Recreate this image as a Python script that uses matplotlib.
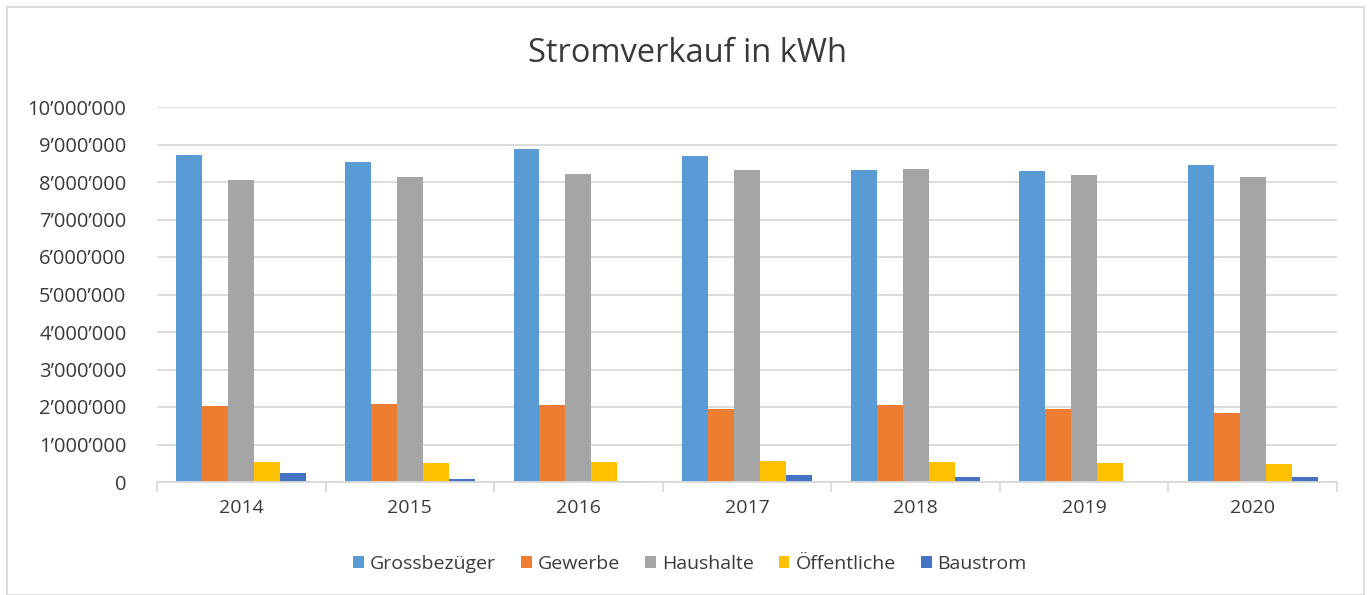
import matplotlib.pyplot as plt
import numpy as np
from matplotlib.ticker import FuncFormatter, FixedLocator
from matplotlib.patches import Rectangle

plt.rcParams['font.family'] = ['Open Sans', 'DejaVu Sans']

# Daten
jahre = ['2014', '2015', '2016', '2017', '2018', '2019', '2020']
grossbezueger = [8720000, 8530000, 8880000, 8690000, 8320000, 8290000, 8450000]
gewerbe = [2030000, 2080000, 2050000, 1950000, 2050000, 1950000, 1840000]
haushalte = [8050000, 8130000, 8210000, 8320000, 8350000, 8190000, 8130000]
oeffentliche = [540000, 510000, 540000, 560000, 530000, 510000, 490000]
baustrom = [230000, 90000, 30000, 200000, 140000, 0, 140000]

serien = [('Grossbezüger', grossbezueger, '#5B9BD5'),
          ('Gewerbe', gewerbe, '#ED7D31'),
          ('Haushalte', haushalte, '#A5A5A5'),
          ('Öffentliche', oeffentliche, '#FFC000'),
          ('Baustrom', baustrom, '#4472C4')]

textfarbe = '#3A3A3A'

fig = plt.figure(figsize=(13.71, 5.95), dpi=100)
ax = fig.add_axes([157/1371, 1 - 482/595, (1337-157)/1371, (482-107)/595])

x = np.arange(len(jahre))
w = 0.154
for i, (name, werte, farbe) in enumerate(serien):
    ax.bar(x + (i - 2) * w, werte, width=w, color=farbe, label=name, zorder=3)

ax.set_xlim(-0.5, len(jahre) - 0.5)
ax.set_ylim(0, 10000000)
ax.set_yticks(np.arange(0, 10000001, 1000000))
ax.yaxis.set_major_formatter(FuncFormatter(lambda v, p: f'{int(v):,}'.replace(',', '’')))
ax.grid(axis='y', color='#D9D9D9', linewidth=1.3, zorder=0)

ax.set_xticks(x)
ax.set_xticklabels(jahre)
ax.xaxis.set_minor_locator(FixedLocator(np.arange(-0.5, len(jahre), 1)))
ax.tick_params(axis='x', which='major', length=0, pad=12, labelsize=14, colors=textfarbe)
ax.tick_params(axis='x', which='minor', length=7, width=1.3, color='#D9D9D9')
ax.tick_params(axis='y', length=0, pad=22, labelsize=14.5, colors=textfarbe)

for s in ['top', 'right', 'left']:
    ax.spines[s].set_visible(False)
ax.spines['bottom'].set_color('#D9D9D9')
ax.spines['bottom'].set_linewidth(1.3)
ax.spines['bottom'].set_zorder(4)

fig.text(687/1371, 1 - 53/595, 'Stromverkauf in kWh', ha='center', va='center',
         fontsize=23.5, color=textfarbe)

fig.legend(loc='center', bbox_to_anchor=(690/1371, 1 - 564/595), ncol=5, frameon=False,
           fontsize=14, handlelength=0.55, handleheight=0.55, columnspacing=1.3,
           handletextpad=0.3, labelcolor=textfarbe)

fig.patches.append(Rectangle((7/1371, 0), 1 - 14/1371, 1 - 7/595, transform=fig.transFigure,
                             fill=False, edgecolor='#D9D9D9', linewidth=1.3))

fig.savefig('out.png', dpi=100)
